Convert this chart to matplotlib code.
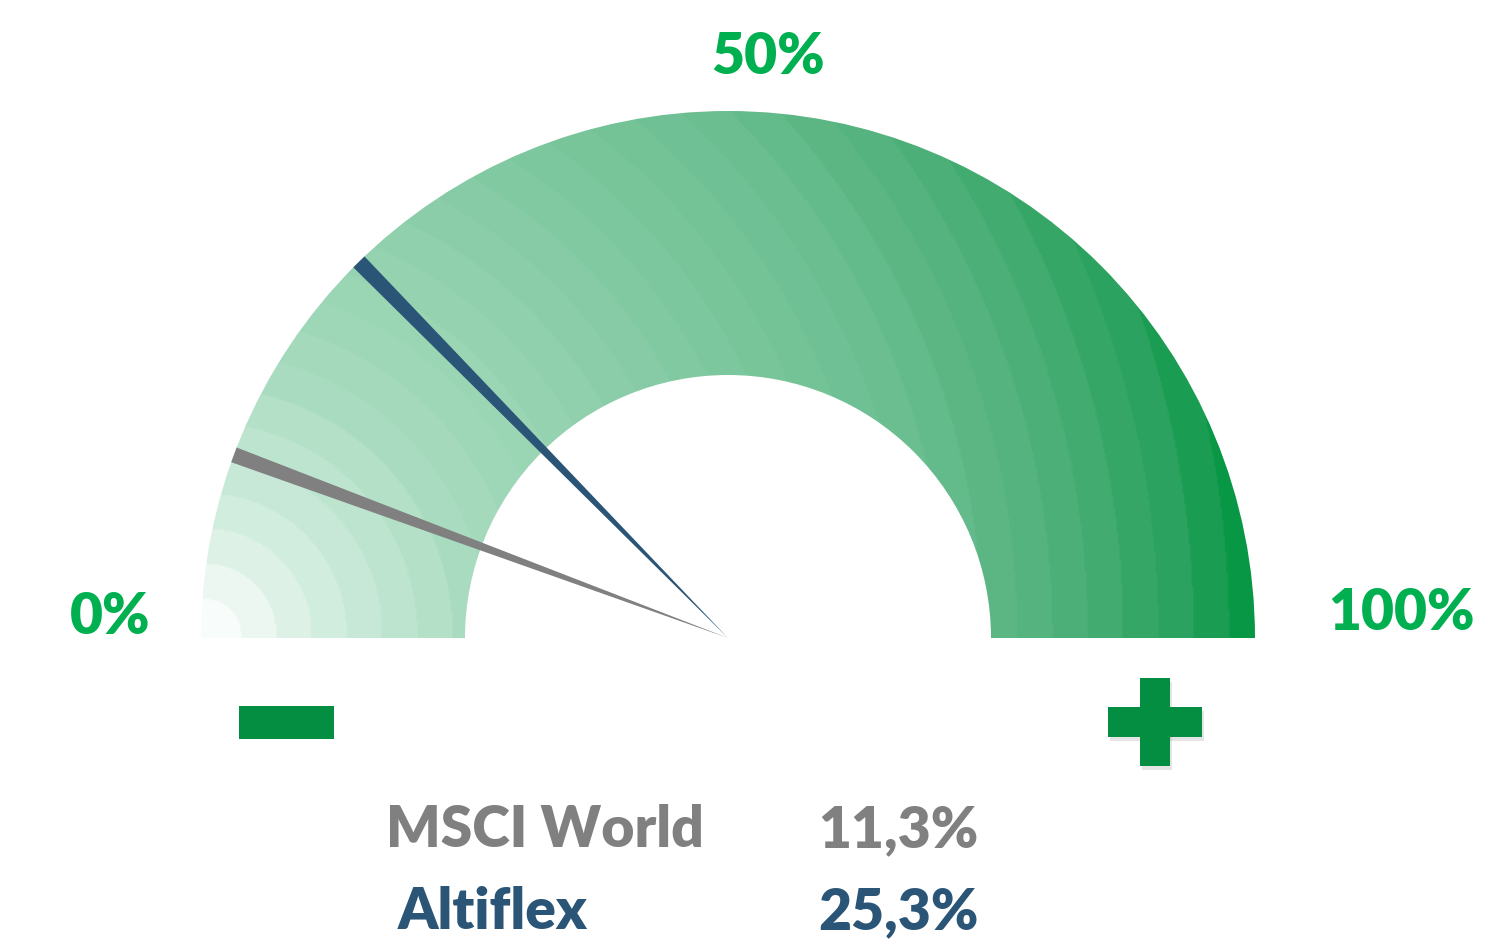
import numpy as np
import matplotlib
matplotlib.use("Agg")
import matplotlib.pyplot as plt
from matplotlib.patches import Wedge, Polygon, Rectangle
from matplotlib.colors import LinearSegmentedColormap

plt.rcParams['font.family'] = ['Lato', 'DejaVu Sans']

# data
names = ["MSCI World", "Altiflex"]
values = [11.3, 25.3]
value_labels = ["11,3%", "25,3%"]
needle_colors = ["#808080", "#2b5576"]
scale_labels = ["0%", "50%", "100%"]

W, H = 1489, 952
fig = plt.figure(figsize=(W / 100, H / 100), dpi=100)
ax = fig.add_axes([0, 0, 1, 1])
ax.set_xlim(0, W)
ax.set_ylim(0, H)
ax.axis('off')

# gauge geometry (pixel space, y up)
cx, cy = 728, 314
r_out, r_in = 527, 263

# radial gradient from the bottom-left corner of the dial
gx, gy = 205, 317
cmap = LinearSegmentedColormap.from_list("g", [
    (0.0, "#ffffff"), (0.1, "#d6efe1"), (0.25, "#a9dcc0"),
    (0.45, "#8bcea9"), (0.68, "#6cbf91"), (0.83, "#4aae76"),
    (0.93, "#27a15c"), (1.0, "#00963f")])
xs = np.linspace(cx - r_out, cx + r_out, 700)
ys = np.linspace(cy, cy + r_out, 350)
X, Y = np.meshgrid(xs, ys)
D = np.hypot(X - gx, Y - gy) / 1060
D = np.floor(D * 30) / 30 + 0.5 / 30  # faint rings like the original
img = ax.imshow(D, cmap=cmap, vmin=0, vmax=1, origin='lower',
                extent=(xs[0], xs[-1], ys[0], ys[-1]), interpolation='bilinear')
ring = Wedge((cx, cy), r_out, 0, 180, width=r_out - r_in,
             transform=ax.transData, facecolor='none', edgecolor='none')
ax.add_patch(ring)
img.set_clip_path(ring)

# needles
half = 0.85
for v, c in zip(values, needle_colors):
    th = np.radians(180 - 1.8 * v)
    dh = np.radians(half)
    pts = [(cx, cy),
           (cx + r_out * np.cos(th + dh), cy + r_out * np.sin(th + dh)),
           (cx + r_out * np.cos(th - dh), cy + r_out * np.sin(th - dh))]
    ax.add_patch(Polygon(pts, closed=True, facecolor=c, edgecolor='none', zorder=3))

# scale labels
green = "#00b050"
fw = 'heavy'
ax.text(110, 952 - 617, scale_labels[0], color=green, fontsize=41, fontweight=fw,
        ha='center', va='center')
ax.text(768, 952 - 57, scale_labels[1], color=green, fontsize=41, fontweight=fw,
        ha='center', va='center')
ax.text(1401, 952 - 613, scale_labels[2], color=green, fontsize=41, fontweight=fw,
        ha='center', va='center')

# minus / plus signs
sign = "#038e41"
ax.add_patch(Rectangle((239, 952 - 739), 95, 33, facecolor=sign, edgecolor='none'))
px, py = 1155, 952 - 722
ax.add_patch(Rectangle((px - 47 + 2, py - 15 - 4), 94, 30, facecolor='#999999',
                       alpha=0.25, edgecolor='none'))
ax.add_patch(Rectangle((px - 15 + 2, py - 44 - 4), 30, 88, facecolor='#999999',
                       alpha=0.25, edgecolor='none'))
ax.add_patch(Rectangle((px - 47, py - 15), 94, 30, facecolor=sign, edgecolor='none'))
ax.add_patch(Rectangle((px - 15, py - 44), 30, 88, facecolor=sign, edgecolor='none'))

# legend text
rows_y = [952 - 830, 952 - 912]
name_x = [386, 398]
for n, lab, c, yy, nx in zip(names, value_labels, needle_colors, rows_y, name_x):
    ax.text(nx, yy, n, color=c, fontsize=41, fontweight=fw, ha='left', va='center')
    ax.text(818, yy, lab, color=c, fontsize=41, fontweight=fw, ha='left', va='center')

fig.savefig("out.png", dpi=100)
